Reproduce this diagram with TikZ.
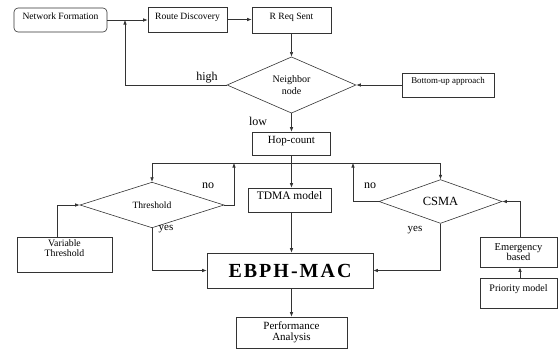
\documentclass[tikz,border=0pt]{standalone}
\usepackage{fontspec}
\setmainfont{Liberation Serif}
\usetikzlibrary{shapes.geometric,arrows.meta}
\begin{document}
\begin{tikzpicture}[x=1pt,y=-1pt,
  ln/.style={draw=black!80, line width=0.6pt},
  arr/.style={ln, -{Latex[length=4.5pt,width=3.5pt]}},
  box/.style={draw=black!80, line width=0.6pt, rectangle, inner sep=0pt, align=center},
  dia/.style={draw=black!80, line width=0.6pt, diamond, inner sep=0pt, align=center},
  lift/.style={text height=7pt, text depth={2*#1pt}},
  lbl/.style={inner sep=0pt},
  fa/.style={font=\fontsize{9.6}{10}\selectfont},
  fb/.style={font=\fontsize{10}{11.5}\selectfont},
  fc/.style={font=\fontsize{11.5}{12}\selectfont},
  fd/.style={font=\fontsize{12}{12}\selectfont}
]
\useasboundingbox (0,0) rectangle (558,349);

% top row
\node[box, fa, rounded corners=4pt, minimum width=93pt, minimum height=24pt, lift=4] (nf) at (60.5,20) {Network Formation};
\node[box, fa, minimum width=79pt, minimum height=25pt, lift=4] (rd) at (187.5,19.5) {Route Discovery};
\node[box, fa, minimum width=79pt, minimum height=26pt, lift=4.5] (rr) at (291.5,20) {R Req Sent};

% neighbor
\node[dia, fb, minimum width=129pt, minimum height=56pt] (nb) at (291.5,85) {Neighbor\\node};
\node[box, font=\fontsize{8.9}{10}\selectfont, minimum width=92pt, minimum height=24pt, lift=5.5] (bu) at (448,85) {Bottom-up approach};
\node[lbl, fd] (high) at (207,78) {high};
\node[lbl, fd] (low) at (258,121.5) {low};

% hop count
\node[box, font=\fontsize{11}{12}\selectfont, minimum width=78pt, minimum height=23pt, lift=3.5] (hop) at (291.5,143.5) {Hop-count};
\node[box, fc, minimum width=83pt, minimum height=24pt, lift=4] (tdma) at (289.5,200) {TDMA model};

% diamonds
\node[dia, font=\fontsize{9.6}{10}\selectfont, minimum width=144pt, minimum height=44pt] (thr) at (152,205) {Threshold};
\node[dia, font=\fontsize{12.5}{13}\selectfont, minimum width=123pt, minimum height=38pt] (csma) at (440.5,201.5) {CSMA};
\node[lbl, fd] (no1) at (208,186) {no};
\node[lbl, fd] (no2) at (370,186) {no};
\node[lbl, font=\fontsize{11}{11}\selectfont] (yes1) at (166,229) {yes};
\node[lbl, font=\fontsize{11}{11}\selectfont] (yes2) at (415,230) {yes};

% bottom
\node[box, font=\fontsize{9.8}{10.5}\selectfont, minimum width=95pt, minimum height=35pt] (vt) at (64.5,254.5) {Variable\\Threshold\\[2pt]};
\node[box, font=\bfseries\fontsize{20}{22}\selectfont\addfontfeature{LetterSpace=10}, minimum width=166pt, minimum height=35pt] (ebph) at (290,270.5) {EBPH-MAC};
\node[box, font=\fontsize{11}{11.5}\selectfont, minimum width=111pt, minimum height=31pt] (pa) at (291.5,332.5) {Performance\\Analysis};
\node[box, font=\fontsize{10.5}{10.5}\selectfont, minimum width=77pt, minimum height=30pt] (eb) at (518.5,252) {Emergency\\based};
\node[box, font=\fontsize{10}{10}\selectfont, minimum width=77pt, minimum height=30pt, lift=5.5] (pm) at (518.5,293) {Priority model};

% coordinates
\coordinate (hj) at (125,20);
\coordinate (hc) at (291.5,163);
\coordinate (tj) at (234,163);
\coordinate (cj) at (353,163);
\coordinate (vtop) at (57,237);
\coordinate (etop) at (520,237);

% connectors
\draw[arr] (nf.east) -- (nf.east -| rd.west);
\draw[arr] (rd.east) -- (rd.east -| rr.west);
\draw[arr] (rr.south) -- (nb.north);
\draw[arr] (nb.west) -| (hj);
\draw[arr] (nb.south) -- (hop.north);
\draw[arr] (bu.west) -- (bu.west -| nb.east);
\draw[ln] (hop.south) -- (hc);
\draw[arr] (hc) -- (hc |- tdma.north);
\draw[arr] (hc) -| (thr.north);
\draw[arr] (hc) -| (csma.north);
\draw[arr] (thr.east) -| (tj);
\draw[arr] (csma.west) -| (cj);
\draw[arr] (vtop) |- (thr.west);
\draw[arr] (thr.south) |- (ebph.west);
\draw[arr] (csma.south) |- (ebph.east);
\draw[arr] (hc |- tdma.south) -- (hc |- ebph.north);
\draw[arr] (hc |- ebph.south) -- (hc |- pa.north);
\draw[arr] (etop) |- (csma.east);
\draw[arr] (etop |- pm.north) -- (etop |- eb.south);
\end{tikzpicture}
\end{document}
